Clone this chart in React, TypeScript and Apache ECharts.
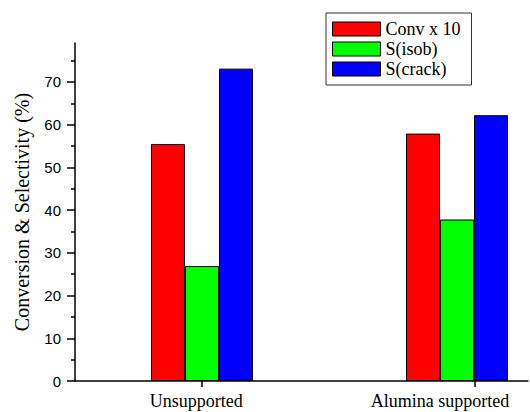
import React, { useEffect, useRef } from "react";
import * as echarts from "echarts";

const categories = ["Unsupported", "Alumina supported"];
const tickPositions = [1, 2];
const groupPositions = [1, 1.934];
const labelPositions = [0.979, 1.872];
const seriesNames = ["Conv x 10", "S(isob)", "S(crack)"];
const convX10 = [55.45, 57.9];
const sIsob = [26.9, 37.8];
const sCrack = [73.1, 62.2];
const yMajorTicks = [0, 10, 20, 30, 40, 50, 60, 70];
const yMinorTicks = [5, 15, 25, 35, 45, 55, 65, 75];
const colors = ["#ff0000", "#00ff00", "#0000ff"];

export default function App() {
  const ref = useRef<HTMLDivElement>(null);
  useEffect(() => {
    if (!ref.current) return;
    const chart = echarts.init(ref.current, null, { renderer: "svg" });
    const serif = "'Liberation Serif', 'Times New Roman', serif";
    const sans = "'Liberation Sans', Arial, sans-serif";
    const valuesList = [convX10, sIsob, sCrack];
    chart.setOption({
      animation: false,
      backgroundColor: "#ffffff",
      grid: { left: 75, right: 2, top: 43, bottom: 31 },
      legend: {
        orient: "vertical",
        left: 326,
        top: 13,
        padding: [7, 11, 7, 6],
        itemWidth: 48,
        itemHeight: 14,
        itemGap: 2,
        borderColor: "#333",
        borderWidth: 1,
        backgroundColor: "#fff",
        icon: "rect",
        textStyle: { fontFamily: serif, fontSize: 18, color: "#000", padding: [0, 0, 0, 0] },
        itemStyle: { borderColor: "#000", borderWidth: 1 },
        data: seriesNames,
      },
      xAxis: {
        type: "value",
        min: 0.535,
        max: 2.194,
        axisLine: { show: true, onZero: false, lineStyle: { color: "#000", width: 1.5 } },
        axisTick: { show: true, customValues: tickPositions, length: 6, inside: false, lineStyle: { color: "#000", width: 1.5 } },
        axisLabel: {
          show: true,
          customValues: labelPositions,
          margin: 11,
          fontFamily: serif,
          fontSize: 18,
          color: "#000",
          formatter: (v: number) => {
            let best = 0;
            for (let i = 1; i < labelPositions.length; i++) {
              if (Math.abs(labelPositions[i] - v) < Math.abs(labelPositions[best] - v)) best = i;
            }
            return categories[best];
          },
        },
        splitLine: { show: false },
      },
      yAxis: [
        {
          type: "value",
          min: 0,
          max: 79.1,
          name: "Conversion & Selectivity (%)",
          nameLocation: "middle",
          nameGap: 43,
          nameRotate: 90,
          nameTextStyle: { fontFamily: serif, fontSize: 20, color: "#000" },
          axisLine: { show: true, lineStyle: { color: "#000", width: 1.5 } },
          axisTick: { show: true, customValues: yMajorTicks, length: 8, inside: false, lineStyle: { color: "#000", width: 1.5 } },
          axisLabel: { show: true, customValues: yMajorTicks, margin: 14, fontFamily: sans, fontSize: 15, color: "#000" },
          splitLine: { show: false },
        },
        {
          type: "value",
          min: 0,
          max: 79.1,
          position: "left",
          offset: 0,
          axisLine: { show: false },
          axisTick: { show: true, customValues: yMinorTicks, length: 4, inside: false, lineStyle: { color: "#000", width: 1.5 } },
          axisLabel: { show: false },
          splitLine: { show: false },
        },
      ],
      series: seriesNames.map((name, si) => ({
        name,
        type: "bar",
        xAxisIndex: 0,
        yAxisIndex: 0,
        barWidth: 34,
        barGap: "0%",
        itemStyle: { color: colors[si], borderColor: "#000", borderWidth: 1 },
        data: groupPositions.map((x, i) => [x, valuesList[si][i]]),
      })),
    });
    return () => chart.dispose();
  }, []);
  return <div ref={ref} style={{ position: "fixed", left: 0, top: 0, width: 530, height: 412 }} />;
}
